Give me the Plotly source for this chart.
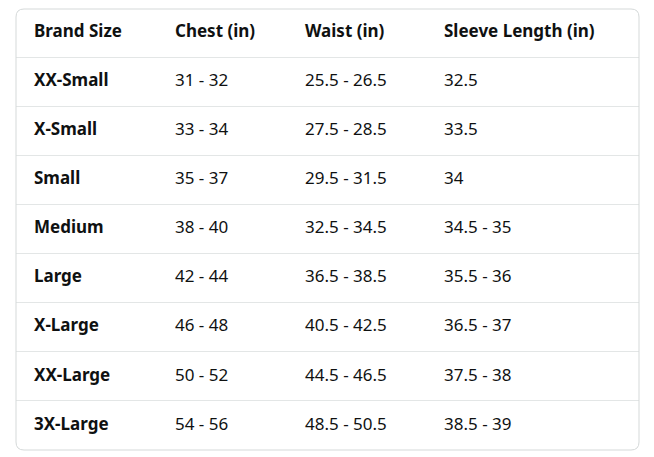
import plotly.graph_objects as go

headers = ["Brand Size", "Chest (in)", "Waist (in)", "Sleeve Length (in)"]
sizes = ["XX-Small", "X-Small", "Small", "Medium", "Large", "X-Large", "XX-Large", "3X-Large"]
chest = ["31 - 32", "33 - 34", "35 - 37", "38 - 40", "42 - 44", "46 - 48", "50 - 52", "54 - 56"]
waist = ["25.5 - 26.5", "27.5 - 28.5", "29.5 - 31.5", "32.5 - 34.5", "36.5 - 38.5", "40.5 - 42.5", "44.5 - 46.5", "48.5 - 50.5"]
sleeve = ["32.5", "33.5", "34", "34.5 - 35", "35.5 - 36", "36.5 - 37", "37.5 - 38", "38.5 - 39"]

W, H = 654, 457
OFF = 8  # page body margin compensation
col_x = [34, 175, 305, 444]
rows = ["hdr"] + sizes
columns = [sizes, chest, waist, sleeve]

fig = go.Figure()
for i, col in enumerate(columns):
    texts = ["<b>%s</b>" % headers[i]] + [("<b>%s</b>" % v) if i == 0 else v for v in col]
    fig.add_trace(go.Scatter(
        x=[col_x[i] - OFF] * len(rows), y=rows, mode="text", text=texts,
        textposition="middle right", hoverinfo="skip",
        textfont=dict(family="Noto Sans", size=17, color="#0f1111")))

bx0, bx1 = 16 - OFF, 639 - OFF
top, bot = 8 - OFF, 450 - OFF
fig.update_layout(
    width=W, height=H, margin=dict(l=0, r=0, t=0, b=0),
    paper_bgcolor="white", plot_bgcolor="white", showlegend=False,
    xaxis=dict(range=[bx0, bx1], domain=[bx0 / W, bx1 / W], visible=False, fixedrange=True),
    yaxis=dict(type="category", categoryarray=rows, range=[len(rows) - 0.5, -0.5],
               domain=[(H - bot) / H, (H - top) / H], tickson="boundaries", showgrid=True,
               gridcolor="#e3e6e6", gridwidth=1, showticklabels=False, ticks="",
               zeroline=False, showline=False, fixedrange=True),
)
x0, x1, y0, y1, r = bx0 / W, bx1 / W, (H - bot) / H, (H - top - 1) / H, 8
rx, ry = r / W, r / H
path = (f"M {x0+rx},{y1} L {x1-rx},{y1} Q {x1},{y1} {x1},{y1-ry} L {x1},{y0+ry} "
        f"Q {x1},{y0} {x1-rx},{y0} L {x0+rx},{y0} Q {x0},{y0} {x0},{y0+ry} "
        f"L {x0},{y1-ry} Q {x0},{y1} {x0+rx},{y1} Z")
fig.add_shape(type="path", path=path, xref="paper", yref="paper",
              line=dict(color="#d5d9d9", width=1))
fig.write_html("out.html")
